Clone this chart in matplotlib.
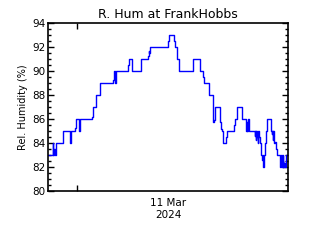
import numpy as np
import matplotlib
matplotlib.use("agg")
import matplotlib.pyplot as plt
from matplotlib.ticker import MultipleLocator

# hours relative to 00:00 11 Mar 2024, humidity (%) held until next time
HOURS = [
    -3.80, -3.14, -3.08, -2.98, -2.90, -2.79, -1.82, -0.95, -0.90, -0.84,
    -0.78, -0.20, -0.07, 0.22, 0.28, 0.33, 0.40, 2.04, 2.13, 2.56,
    3.00, 3.09, 4.76, 4.85, 5.02, 5.10, 5.16, 5.20, 6.73, 6.82,
    7.30, 8.49, 9.37, 9.45, 9.50, 9.59, 12.00, 12.13, 12.79, 12.97,
    13.19, 13.45, 15.29, 16.17, 16.61, 16.70, 17.36, 17.93, 18.05, 18.15,
    18.23, 18.80, 18.94, 19.11, 19.24, 19.68, 19.77, 20.69, 20.87, 21.09,
    21.74, 22.23, 22.31, 22.40, 22.45, 22.53, 22.60, 23.41, 23.48, 23.55,
    23.63, 23.70, 23.80, 23.85, 23.93, 23.98, 24.07, 24.29, 24.42, 24.46,
    24.51, 24.64, 24.82, 24.95, 25.04, 25.61, 25.70, 25.74, 25.80, 25.83,
    25.91, 26.05, 26.27, 26.40, 26.70, 26.79, 26.92, 26.98, 27.06, 27.10,
    27.14, 27.20, 27.28, 27.36, 27.58, 27.80,
]
HUMIDITY = [
    83, 84, 83, 83.5, 83, 84, 85, 84, 85, 84,
    85, 85.3, 86, 85, 85.7, 85, 86, 86.2, 87, 88,
    88.8, 89, 89.3, 90, 89, 90, 89.5, 90, 90.5, 91,
    90, 91, 91.3, 91.7, 91.5, 92, 92.5, 93, 92.5, 92,
    91, 90, 91, 90, 89.5, 89, 88, 85.8, 85.9, 86,
    87, 85.8, 85.2, 85, 84, 84.5, 85, 85.5, 86, 87,
    86, 85.3, 85, 85.8, 85, 86, 85, 84.6, 85, 84.3,
    85, 84.5, 84, 85, 84.7, 84.5, 84, 83, 82.6, 83,
    82, 83, 84, 85, 86, 85, 84.8, 85, 84.3, 85,
    84, 84.1, 83.5, 83, 82.5, 82, 83, 82, 82.5, 82,
    83, 82, 82.3, 82, 83, 83,
]
XRANGE = [-3.8, 27.8]
YRANGE = [80, 94]
DAY_TICK = 0
DAY_LABEL_POS = 12
DAY_LABEL = "11 Mar\n2024"

fig = plt.figure(figsize=(3.2, 2.4), dpi=100)
ax = fig.add_axes([0.15, 0.204, 0.75, 0.699])

ax.plot(HOURS, HUMIDITY, drawstyle="steps-post", color="#0000ff", lw=1.0)

ax.set_xlim(XRANGE)
ax.set_ylim(YRANGE)
ax.set_title("R. Hum at FrankHobbs", fontsize=9, pad=4)
ax.set_ylabel("Rel. Humidity (%)", fontsize=7, labelpad=3)

ax.yaxis.set_major_locator(MultipleLocator(2))
ax.yaxis.set_minor_locator(MultipleLocator(0.5))
ax.tick_params(axis="y", which="both", direction="in", left=True, right=True, labelsize=7.5, pad=2)
ax.tick_params(axis="y", which="major", length=4, width=1)
ax.tick_params(axis="y", which="minor", length=2.2, width=1)

ax.set_xticks([DAY_TICK])
ax.set_xticklabels([""])
ax.set_xticks([DAY_LABEL_POS], minor=True)
ax.set_xticklabels([DAY_LABEL], minor=True, fontsize=7.5)
ax.tick_params(axis="x", which="major", direction="in", top=True, bottom=True, length=4, width=1)
ax.tick_params(axis="x", which="minor", length=0, pad=5)

for s in ax.spines.values():
    s.set_linewidth(1.2)

fig.savefig("out.png", dpi=100)
